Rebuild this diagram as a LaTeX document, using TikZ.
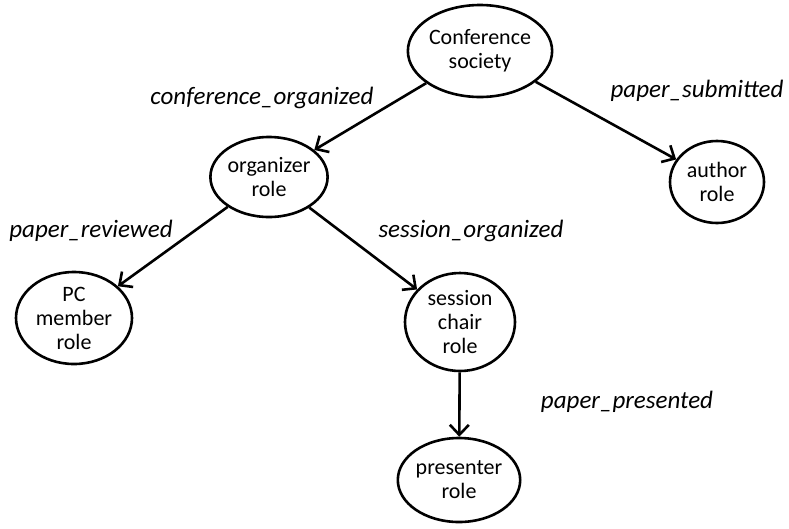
\documentclass[tikz,border=0pt]{standalone}
\usepackage{fontspec}
\setmainfont{Carlito}
\usetikzlibrary{shapes.geometric}
\usetikzlibrary{arrows.meta}
\usetikzlibrary{positioning}

\begin{document}
\begin{tikzpicture}[x=1pt, y=-1pt]

\tikzset{role/.style={ellipse, draw, line width=2.6pt, align=center,
                      inner sep=0pt, font=\fontsize{22}{24}\selectfont},
         rel/.style={font=\fontsize{25}{28}\selectfont\itshape},
         link/.style={line width=2.6pt, -{Straight Barb[length=10pt, width=19pt, line width=2.6pt]}}}

\useasboundingbox (0,0) rectangle (789,528);

\node (society)   [role, minimum width=114pt, minimum height=92pt] at (480,51)  {Conference\\society};
\node (organizer) [role, minimum width=114pt, minimum height=80pt] at (269,177) {organizer\\role};
\node (author)    [role, minimum width=94pt,  minimum height=82pt] at (717,182) {author\\role};
\node (pcmember)  [role, minimum width=116pt, minimum height=92pt] at (74,318)  {PC\\member\\role};
\node (chair)     [role, minimum width=110pt, minimum height=98pt] at (460,322) {session\\chair\\role};
\node (presenter) [role, minimum width=104pt, minimum height=84pt] at (459,480) {presenter\\role};

\draw [link] (society) -- (organizer);
\draw [link] (society) -- (author);
\draw [link] (organizer) -- (pcmember);
\draw [link] (organizer) -- (chair);
\draw [link] (chair) -- (presenter);

\node (organized) [rel] at (262,98)  {conference\_organized};
\node (submitted) [rel] at (697,91)  {paper\_submitted};
\node (reviewed)  [rel] at (91,231)  {paper\_reviewed};
\node (sessorg)   [rel] at (471,231) {session\_organized};
\node (presented) [rel] at (627,402) {paper\_presented};

\end{tikzpicture}
\end{document}
